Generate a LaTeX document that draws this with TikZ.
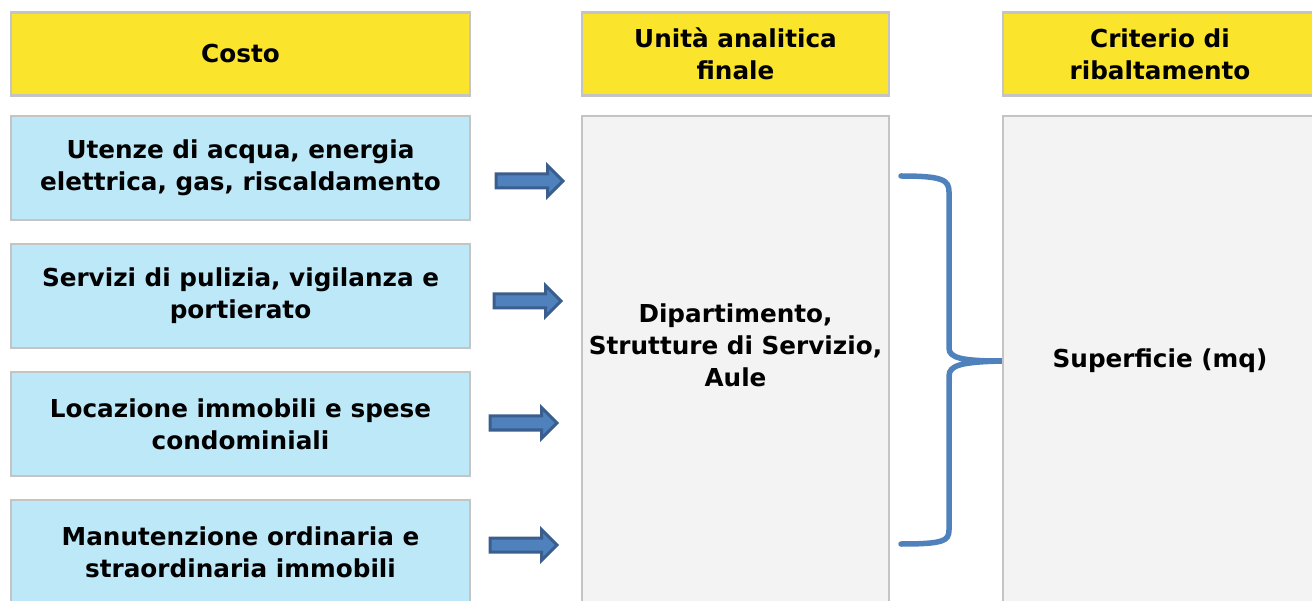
\documentclass[tikz,border=0pt]{standalone}
\usepackage{fontspec}
\setmainfont{DejaVu Sans}
\usetikzlibrary{positioning,shapes.arrows}
\definecolor{giallo}{HTML}{FAE42C}
\definecolor{azzurro}{HTML}{BDE8F8}
\definecolor{grigio}{HTML}{F3F3F3}
\definecolor{bordo}{HTML}{C4C4C4}
\definecolor{blufreccia}{HTML}{4F81BD}
\definecolor{blubordo}{HTML}{3A5F8E}
\tikzset{
	x=1pt, y=-1pt,
	box/.style={draw=bordo, line width=2.5pt, inner sep=0pt, align=center,
		font=\bfseries\fontsize{24.7}{32}\selectfont},
	header/.style={box, fill=giallo, minimum height=83pt},
	voce/.style={box, fill=azzurro, minimum width=459pt, minimum height=104pt},
	colonna/.style={box, fill=grigio, minimum height=490pt},
	freccia/.style={single arrow, draw=blubordo, fill=blufreccia, line width=3pt,
		minimum height=67pt, inner xsep=0pt, inner ysep=5.5pt, single arrow head extend=8.5pt},
	graffa/.style={draw=blufreccia, line width=5.5pt, line cap=round},
}
\begin{document}
\begin{tikzpicture}
	\useasboundingbox (0,0) rectangle (1312,601);
	\clip (0,0) rectangle (1312,601);

	% intestazioni
	\node[header, minimum width=459pt] (costo) at (240.5,54) {Costo};
	\node[header, minimum width=307pt] (unita) at (735.5,54) {Unità analitica\\finale};
	\node[header, minimum width=314pt] (criterio) at (1160,54) {Criterio di\\ribaltamento};

	% voci di costo
	\node[voce] (c1) at (240.5,168) {Utenze di acqua, energia\\elettrica, gas, riscaldamento};
	\node[voce, below=21.5pt of c1] (c2) {Servizi di pulizia, vigilanza e\\portierato};
	\node[voce, below=21.5pt of c2] (c3) {Locazione immobili e spese\\condominiali};
	\node[voce, below=21.5pt of c3] (c4) {Manutenzione ordinaria e\\straordinaria immobili};

	% colonne
	\node[colonna, minimum width=307pt, below=18pt of unita] (dip) {};
	\node[box, draw=none] (diptesto) at (735.5,345) {Dipartimento,\\Strutture di Servizio,\\Aule};
	\node[colonna, minimum width=314pt, below=18pt of criterio] (superficie) {Superficie (mq)};

	% frecce
	\node[freccia] (f1) at (526,181) {};
	\node[freccia] (f2) at (524,301) {};
	\node[freccia] (f3) at (520,423) {};
	\node[freccia] (f4) at (520,545) {};

	% graffa
	\coordinate (gtop) at (901,176);
	\coordinate (gbot) at (901,544);
	\draw[graffa] (gtop) .. controls (943,176) and (949,180) .. (949,192) -- (949,348)
		.. controls (949,358) and (962,361) .. (superficie.west)
		.. controls (962,362) and (949,365) .. (949,376) -- (949,530)
		.. controls (949,541) and (943,544) .. (gbot);
\end{tikzpicture}
\end{document}
